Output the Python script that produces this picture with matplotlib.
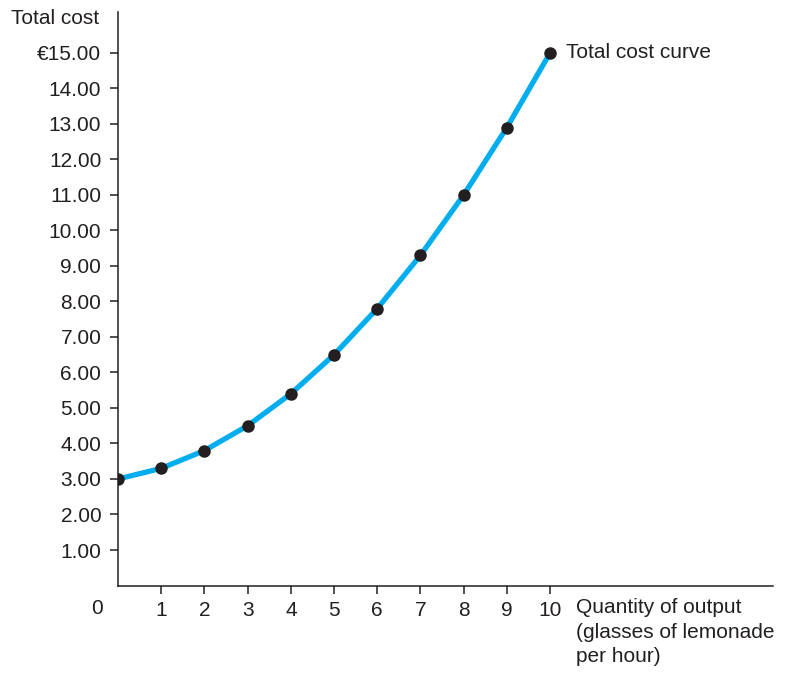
import matplotlib.pyplot as plt

plt.rcParams['font.family'] = ['Liberation Sans', 'DejaVu Sans']

# Datos
quantity = [0, 1, 2, 3, 4, 5, 6, 7, 8, 9, 10]
total_cost = [3.00, 3.30, 3.80, 4.50, 5.40, 6.50, 7.80, 9.30, 11.00, 12.90, 15.00]
y_ticks = list(range(1, 16))
y_labels = ["%.2f" % v for v in y_ticks[:-1]] + ["€15.00"]
x_ticks = list(range(1, 11))

dark = "#231f20"
blue = "#00aeef"
fs = 15

fig = plt.figure(figsize=(7.91, 6.74), dpi=100)
ax = fig.add_axes([0.1492, 0.1313, 0.828, 0.8507])

ax.plot(quantity, total_cost, color=blue, lw=3.8, solid_capstyle="round", zorder=2)
ax.plot(quantity, total_cost, "o", color=dark, ms=8, zorder=3)

ax.set_xlim(0, 15.16)
ax.set_ylim(0, 16.15)

for s in ["top", "right"]:
    ax.spines[s].set_visible(False)
for s in ["left", "bottom"]:
    ax.spines[s].set_color(dark)
    ax.spines[s].set_linewidth(1.1)

ax.set_yticks(y_ticks)
ax.set_yticklabels(y_labels)
ax.set_xticks(x_ticks)
ax.set_xticklabels([str(v) for v in x_ticks])
ax.tick_params(axis="y", length=6, width=1.1, color=dark, labelsize=fs, pad=6, labelcolor=dark)
ax.tick_params(axis="x", length=6, width=1.1, color=dark, labelsize=fs, pad=5, labelcolor=dark)

# Textos
fig.text(99 / 791, 1 - 19 / 674, "Total cost", ha="right", va="center", fontsize=fs, color=dark)
fig.text(97 / 791, 1 - 608 / 674, "0", ha="center", va="center", fontsize=fs, color=dark)
fig.text(576 / 791, 1 - 598 / 674, "Quantity of output\n(glasses of lemonade\nper hour)",
         ha="left", va="top", fontsize=fs, color=dark, linespacing=1.38)
ax.annotate("Total cost curve", xy=(quantity[-1], total_cost[-1]), xytext=(11.5, 0),
            textcoords="offset points", ha="left", va="center", fontsize=fs, color=dark)

fig.savefig("out.png", dpi=100)
